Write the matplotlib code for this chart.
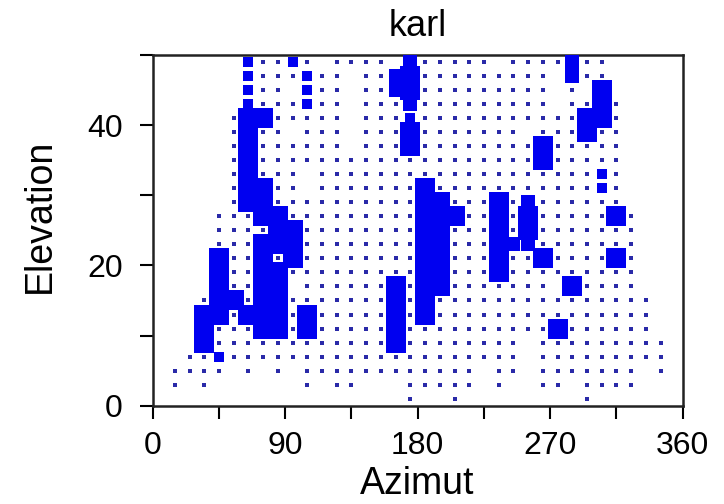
import numpy as np
import matplotlib
matplotlib.use("Agg")
import matplotlib.pyplot as plt

# Grid: azimuth columns (deg) and elevation rows (top to bottom)
azimuths = list(range(5, 360, 10))          # 36 columns
elevations = list(range(49, 0, -2))         # 25 rows

# Cell codes per row: '.' none, 'o' small dot, 'a' small square,
# 'b' medium square, 'c' large square
row_segments = [
    ["......", "aooao.", "oooo.b", "ooooo.", "oooobo", "o....."],  # 49
    ["......", "aoooao", "o.oobc", "oooooo", "ooo.bo", "o....."],  # 47
    ["......", "aoo.ao", "o.oobc", "oooooo", "ooo.o.", "c....."],  # 45
    ["......", "aoooao", "o.ooob", "oooooo", "ooo.oo", "co...."],  # 43
    [".....o", "ccoooo", "o.oooa", "oooooo", "oooooc", "co...."],  # 41
    [".....o", "coo.oo", "o.oooc", "oooooo", "o.oooc", "oo...."],  # 39
    [".....o", "cooooo", "o.oooc", "oooooo", "oocooo", "oo...."],  # 37
    [".....o", "cooooo", "oooooo", "oooooo", "oocooo", "oo...."],  # 35
    [".....o", "cooo.o", "oooooo", "oooooo", "oooooo", "ao...."],  # 33
    [".....o", "ccoo.o", "oooooo", "cooooo", "oooooo", "ao...."],  # 31
    [".....o", "ccoooo", "oooooo", "ccoooc", "oboooo", "oo...."],  # 29
    ["....oo", "occooo", "oooooo", "cccooc", "ocoooo", "oco..."],  # 27
    ["....oo", "ooccoo", "oooooo", "ccoooc", "ocoooo", "ooo..."],  # 25
    ["....oo", "occcoo", "oooooo", "ccoooc", "bboooo", "ooo..."],  # 23
    ["....co", "ococoo", "oooooo", "ccoooc", "oocooo", "oco..."],  # 21
    ["....co", "occooo", "oooooo", "ccoooc", "oooooo", "ooo..."],  # 19
    ["....co", "occ.oo", "ooooco", "ccoooo", "ooo.co", "ooo..."],  # 17
    ["...occ", "occooo", "ooooco", "cooooo", "oooooo", "oooo.."],  # 15
    ["...cco", "cccoco", "ooooco", "cooooo", "oooooo", "oooo.."],  # 13
    ["...coo", "occoco", "ooooco", "oooooo", "ooocoo", "oooo.."],  # 11
    ["...coo", "oooooo", "ooooco", "oooooo", "o.oooo", "ooooo."],  # 9
    ["..ooao", "oooooo", "oooooo", "oooooo", "o.oooo", "ooooo."],  # 7
    [".oooo.", "o.o.oo", "oooooo", "oooo.o", "o.oooo", "ooo.o."],  # 5
    [".o.o..", "....o.", "oo...o", "oooo.o", "..oo.o", "ooo..."],  # 3
    ["......", "......", ".....o", "..o...", ".....o", "......"],  # 1
]

x_ticks = [0, 90, 180, 270, 360]
y_ticks = [0, 20, 40]
title = "karl"
x_label = "Azimut"
y_label = "Elevation"

# marker side length in pixels for each code
side_px = {"o": 3.6, "a": 10.0, "b": 13.5, "c": 20.0}
colors = {"o": "#2a2aa8", "a": "#0000f0", "b": "#0000f0", "c": "#0000f0"}

dpi = 100
fig = plt.figure(figsize=(7.24, 5.04), dpi=dpi)
W, H = 724, 504
left, right, top, bottom = 152.7, 682.7, 55.0, 405.7
ax = fig.add_axes([left / W, 1 - bottom / H, (right - left) / W, (bottom - top) / H])

fam = ["Liberation Sans", "DejaVu Sans"]

for code in ["o", "a", "b", "c"]:
    xs, ys = [], []
    for el, segs in zip(elevations, row_segments):
        row = "".join(segs)
        for az, ch in zip(azimuths, row):
            if ch == code:
                xs.append(az)
                ys.append(el)
    s_pt = side_px[code] * 72.0 / dpi
    ax.scatter(xs, ys, s=s_pt ** 2, marker="s", c=colors[code],
               linewidths=0, zorder=3 if code != "o" else 2)

ax.set_xlim(0, 360)
ax.set_ylim(0, 50)
ax.set_xticks(x_ticks)
ax.set_xticks([45, 135, 225, 315], minor=True)
ax.set_yticks(y_ticks)
ax.set_yticks([10, 30, 50], minor=True)

fs_tick = 23
ax.tick_params(axis="both", which="both", direction="out", length=9.5,
               width=1.5, color="black")
ax.tick_params(axis="x", which="major", pad=9, labelsize=fs_tick)
ax.tick_params(axis="y", which="major", pad=12, labelsize=fs_tick)
for lab in ax.get_xticklabels() + ax.get_yticklabels():
    lab.set_family(fam)

for sp in ax.spines.values():
    sp.set_linewidth(1.8)
    sp.set_color("#222222")

fig.text(418 / W, 1 - 26 / H, title, ha="center", va="center",
         fontsize=26, family=fam)
fig.text(417 / W, 1 - 484 / H, x_label, ha="center", va="center",
         fontsize=27, family=fam)
fig.text(40 / W, 1 - 216 / H, y_label, ha="center", va="center",
         rotation=90, fontsize=27, family=fam)

fig.savefig("out.png", dpi=dpi)
